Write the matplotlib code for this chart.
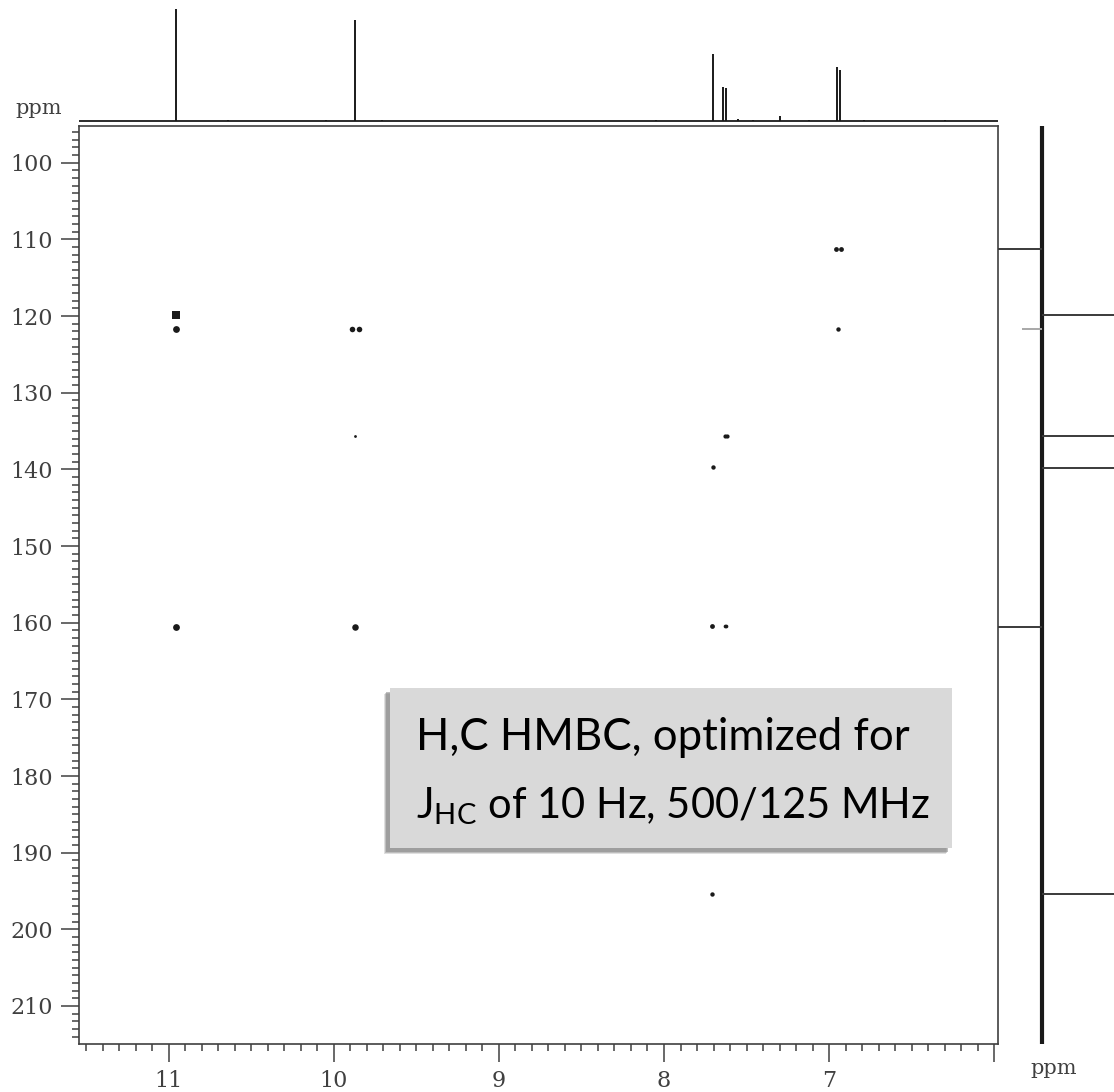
import numpy as np
import matplotlib.pyplot as plt
from matplotlib.patches import Rectangle
from matplotlib.ticker import MultipleLocator

plt.rcParams['mathtext.fontset'] = 'custom'
plt.rcParams['mathtext.rm'] = 'Lato'

# 1H projection (top): peak positions (ppm) and heights (relative)
h_ppm = [10.958, 9.873, 7.703, 7.640, 7.622, 6.950, 6.932, 7.300,
         10.64, 10.05, 9.71, 8.05, 7.55, 7.46, 7.12, 6.79, 6.30]
h_int = [112, 101, 67, 34, 33, 54, 51, 5,
         1.5, 1.5, 1, 1, 2, 1.5, 1.5, 1.5, 1]

# 13C projection (right): positions (ppm) and intensities (neg = left)
c_ppm = [111.3, 119.8, 121.7, 135.7, 139.8, 160.5, 195.4]
c_int = [-60, 90, -20, 90, 90, -60, 90]
c_col = ['#3a3a3a', '#3a3a3a', '#a8a8a8', '#3a3a3a', '#3a3a3a', '#3a3a3a', '#3a3a3a']

# HMBC cross peaks: (1H ppm, 13C ppm, marker size)
cp_h = [10.958, 10.958, 9.889, 9.848, 6.955, 6.930, 6.946, 9.873,
        7.632, 7.617, 7.705, 10.958, 9.873, 7.710, 7.632, 7.622, 7.710]
cp_c = [119.8, 121.7, 121.7, 121.7, 111.3, 111.3, 121.7, 135.6,
        135.7, 135.7, 139.7, 160.5, 160.5, 160.4, 160.4, 160.4, 195.4]
cp_s = [36, 24, 16, 16, 12, 12, 10, 4,
        9, 9, 10, 24, 22, 12, 7, 7, 10]
cp_m = ['s'] + ['o'] * (len(cp_h) - 1)

W, H = 1114, 1092
DARK = '#404040'


def box(l, t, r, b):
    return [l / W, 1 - b / H, (r - l) / W, (b - t) / H]


fig = plt.figure(figsize=(W / 100, H / 100), dpi=100)

# main 2D plot
ax = fig.add_axes(box(79, 126, 998, 1044))
for x, y, s, m in zip(cp_h, cp_c, cp_s, cp_m):
    ax.scatter(x, y, s=s, c='#1a1a1a', marker=m, linewidths=0)
ax.set_xlim(11.545, 5.976)
ax.set_ylim(214.96, 95.2)
ax.set_xticks([6, 7, 8, 9, 10, 11], ['', '7', '8', '9', '10', '11'])
ax.set_yticks(np.arange(100, 211, 10))
ax.xaxis.set_minor_locator(MultipleLocator(0.1))
ax.yaxis.set_minor_locator(MultipleLocator(1))
ax.tick_params(which='major', direction='out', length=13, width=1.1,
               color=DARK, labelcolor=DARK, labelsize=16, pad=6)
ax.tick_params(which='minor', direction='out', length=5, width=1.1, color=DARK)
for lab in ax.get_xticklabels() + ax.get_yticklabels():
    lab.set_fontfamily('DejaVu Serif')
for sp in ax.spines.values():
    sp.set_color(DARK)
    sp.set_linewidth(1.2)

# top projection
axt = fig.add_axes(box(79, 0, 998, 124))
axt.axhline(0, color='#1a1a1a', lw=1.3)
axt.vlines(h_ppm, 0, h_int, color='#1a1a1a', lw=1.4)
axt.set_xlim(11.545, 5.976)
axt.set_ylim(-3, 121)
axt.axis('off')

# right projection
axr = fig.add_axes(box(998, 126, 1114, 1044))
axr.axvline(0, color='#1a1a1a', lw=3.0)
axr.hlines(c_ppm, 0, c_int, colors=c_col, lw=1.4)
axr.set_xlim(-44, 72)
axr.set_ylim(214.96, 95.2)
axr.axis('off')

# ppm labels
fig.text(15 / W, 1 - 108 / H, 'ppm', family='DejaVu Serif', fontsize=15,
         color=DARK, va='center', ha='left')
fig.text(1030 / W, 1 - 1068 / H, 'ppm', family='DejaVu Serif', fontsize=15,
         color=DARK, va='center', ha='left')

# annotation box with soft shadow
for off, a in [(6, 0.25), (5, 0.35), (4, 0.5)]:
    fig.patches.append(Rectangle(((390 - off) / W, 1 - (848 + off) / H), 562 / W, 160 / H,
                                 transform=fig.transFigure, facecolor='#808080',
                                 edgecolor='none', alpha=a))
fig.patches.append(Rectangle((390 / W, 1 - 848 / H), 562 / W, 160 / H,
                             transform=fig.transFigure, facecolor='#d9d9d9',
                             edgecolor='none'))
fig.text(416 / W, 1 - 750 / H, 'H,C HMBC, optimized for', family='Lato',
         fontsize=31.5, color='black', va='baseline', ha='left')
fig.text(416 / W, 1 - 818 / H, r'J$_{\mathregular{HC}}$ of 10 Hz, 500/125 MHz',
         family='Lato', fontsize=30, color='black', va='baseline', ha='left')

fig.savefig('out.png', dpi=100)
